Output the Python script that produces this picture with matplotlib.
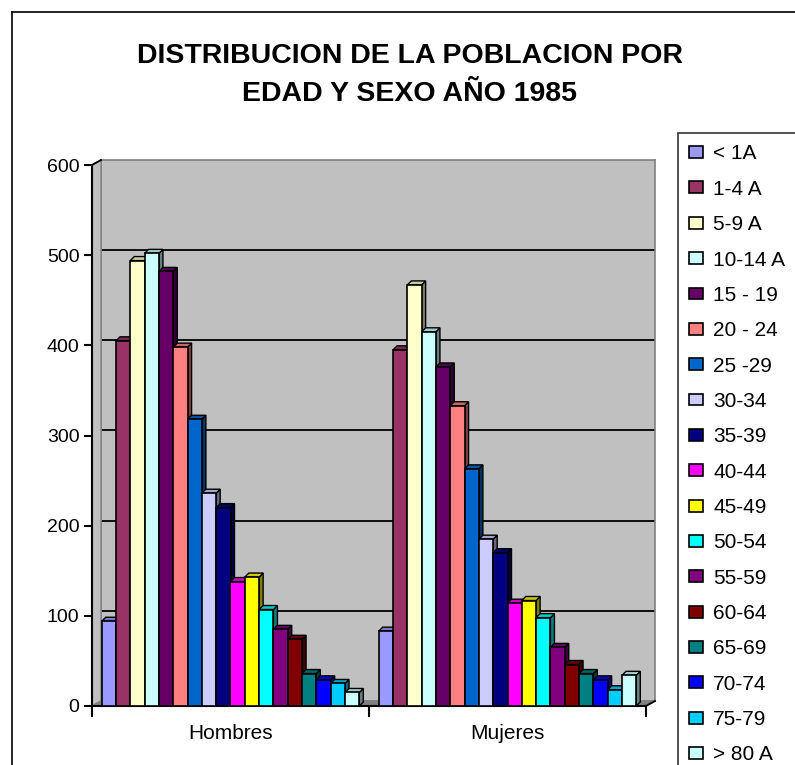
import matplotlib
matplotlib.use("Agg")
import matplotlib.pyplot as plt
from matplotlib.patches import Polygon, Patch
from matplotlib.lines import Line2D
import matplotlib.colors as mcolors
import numpy as np

plt.rcParams['font.family'] = ['Liberation Sans', 'DejaVu Sans']

title = "DISTRIBUCION DE LA POBLACION POR\nEDAD Y SEXO AÑO 1985"
categories = ["Hombres", "Mujeres"]
age_groups = ["< 1A", "1-4 A", "5-9 A", "10-14 A", "15 - 19", "20 - 24", "25 -29",
              "30-34", "35-39", "40-44", "45-49", "50-54", "55-59", "60-64",
              "65-69", "70-74", "75-79", "> 80 A"]
hombres = [94, 405, 494, 502, 482, 398, 318, 236, 220, 138, 143, 107, 85, 74, 36, 29, 25, 15]
mujeres = [83, 395, 467, 415, 376, 333, 263, 185, 170, 114, 117, 98, 65, 46, 36, 29, 18, 34]
colors = ["#9999FF", "#993366", "#FFFFCC", "#CCFFFF", "#660066", "#FF8080", "#0066CC",
          "#CCCCFF", "#000080", "#FF00FF", "#FFFF00", "#00FFFF", "#800080", "#800000",
          "#008080", "#0000FF", "#00CCFF", "#CCFFFF"]
yticks = [0, 100, 200, 300, 400, 500, 600]

W, H = 795, 765
fig = plt.figure(figsize=(W / 100, H / 100), dpi=100)


def fx(x):
    return x / W


def fy(y):
    return 1 - y / H


def fpt(x, y):
    return (fx(x), fy(y))


# outer chart border
fig.add_artist(Line2D([fx(12), fx(800)], [fy(12), fy(12)], color="black", lw=1.2, transform=fig.transFigure))
fig.add_artist(Line2D([fx(12), fx(12)], [fy(12), fy(800)], color="black", lw=1.2, transform=fig.transFigure))

# geometry (pixels)
FL, FR, FT, FB = 92, 646, 165, 706   # front plane
DX, DY = 9, -5                       # depth offset of back wall

# back wall
wall = fig.add_axes([fx(FL + DX), fy(FB + DY), (FR - FL) / W, (FB - FT) / H], zorder=0)
wall.set_facecolor("#C0C0C0")
wall.set_xlim(0, 1)
wall.set_ylim(0, 600)
for v in yticks[1:-1]:
    wall.axhline(v, color="black", lw=1.3)
wall.set_xticks([])
wall.set_yticks([])
for s in wall.spines.values():
    s.set_color("#808080")
    s.set_linewidth(1.2)

# side wall and floor
side = Polygon([fpt(FL, FB), fpt(FL, FT), fpt(FL + DX, FT + DY), fpt(FL + DX, FB + DY)],
               closed=True, facecolor="#C0C0C0", edgecolor="#808080", lw=1, transform=fig.transFigure, zorder=0.5)
floor = Polygon([fpt(FL, FB), fpt(FR, FB), fpt(FR + DX, FB + DY), fpt(FL + DX, FB + DY)],
                closed=True, facecolor="#808080", edgecolor="#808080", lw=1, transform=fig.transFigure, zorder=0.5)
fig.add_artist(side)
fig.add_artist(floor)
fig.add_artist(Line2D([fx(FL), fx(FL + DX)], [fy(FT), fy(FT + DY)], color="black", lw=1.3,
                      transform=fig.transFigure, zorder=5))
fig.add_artist(Line2D([fx(FR), fx(FR + DX)], [fy(FB), fy(FB + DY)], color="black", lw=1.3,
                      transform=fig.transFigure, zorder=5))

# front axes
ax = fig.add_axes([fx(FL), fy(FB), (FR - FL) / W, (FB - FT) / H], zorder=1)
ax.set_facecolor("none")
ax.set_xlim(0, 2)
ax.set_ylim(0, 600)

n = len(age_groups)
cluster = 0.93
bw = cluster / n
xpx = (FR - FL) / 2.0
ypx = (FB - FT) / 600.0
ddx = 4 / xpx
ddy = 4 / ypx

centers = np.arange(len(categories)) + 0.5
for i, (lab, col) in enumerate(zip(age_groups, colors)):
    xs = centers - cluster / 2 + i * bw + bw / 2
    vals = [hombres[i], mujeres[i]]
    rgb = np.array(mcolors.to_rgb(col))
    side_c = rgb * 0.5
    top_c = rgb * 0.8
    for x, v in zip(xs, vals):
        x0, x1 = x - bw / 2, x + bw / 2
        ax.add_patch(Polygon([(x1, 0), (x1 + ddx, ddy), (x1 + ddx, v + ddy), (x1, v)], closed=True,
                             facecolor=side_c, edgecolor="black", lw=1, zorder=2 + 2 * i))
        ax.add_patch(Polygon([(x0, v), (x1, v), (x1 + ddx, v + ddy), (x0 + ddx, v + ddy)], closed=True,
                             facecolor=top_c, edgecolor="black", lw=1, zorder=2 + 2 * i))
    ax.bar(xs, vals, width=bw, color=col, edgecolor="black", linewidth=1.2, zorder=3 + 2 * i, label=lab)

for s in ["top", "right"]:
    ax.spines[s].set_visible(False)
ax.spines["left"].set_linewidth(1.5)
ax.spines["bottom"].set_linewidth(1.5)
ax.set_yticks(yticks)
ax.tick_params(axis="y", direction="out", length=6, width=1.5, labelsize=14, pad=3)
ax.set_xticks([0, 1, 2])
ax.set_xticklabels([])
ax.tick_params(axis="x", which="major", direction="out", length=8, width=1.5)
ax.set_xticks(centers, minor=True)
ax.set_xticklabels(categories, minor=True)
ax.tick_params(axis="x", which="minor", length=0, labelsize=15, pad=13)

# title
fig.text(fx(410), fy(75), title, ha="center", va="center", fontsize=20.5, fontweight="bold",
         linespacing=1.56)

# legend
handles = [Patch(facecolor=c, edgecolor="black", linewidth=1.2) for c in colors]
leg = fig.legend(handles, age_groups, loc="upper left", bbox_to_anchor=(fx(678), fy(133)),
                 frameon=True, fancybox=False, fontsize=15, handlelength=0.65, handleheight=0.5,
                 handletextpad=0.48, labelspacing=0.785, borderpad=0.55, borderaxespad=0)
leg.get_frame().set_edgecolor("black")
leg.get_frame().set_linewidth(1.2)

fig.savefig("out.png", dpi=100)
